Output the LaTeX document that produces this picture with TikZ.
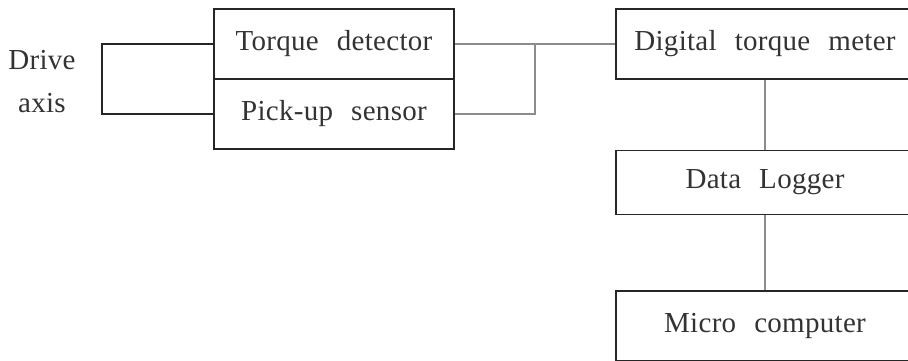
\documentclass[tikz,border=0pt]{standalone}
\usepackage{fontspec}
\setmainfont{Liberation Serif}[WordSpace=2.4, LetterSpace=1]
\usetikzlibrary{positioning}
\tikzset{
  unit/.style   = {shape=rectangle, draw=black!85, line width=1.6pt,
                   minimum height=70pt, text=black!80,
                   font=\fontsize{29}{34}\selectfont},
  sensor/.style = {unit, minimum width=240pt},
  device/.style = {unit, minimum width=298pt},
  wire/.style   = {draw=black!45, line width=1.3pt},
  shaft/.style  = {draw=black!85, line width=1.6pt}
}

\begin{document}
\begin{tikzpicture}[x=1pt, y=-1pt]
  \useasboundingbox (0,0) rectangle (908,360);
  % sensor block
  \node [sensor] (torque) at (334,44)  {Torque detector};
  \node [sensor] (pickup) at (334,114) {Pick-up sensor};
  \node [align=center, text=black!80, font=\fontsize{29}{43}\selectfont] (drive) at (42,82) {Drive\\axis};
  % measuring chain
  \node [device] (meter) at (765,44) {Digital torque meter};
  \node [device, minimum height=64pt, below=70pt of meter] (logger) {Data Logger};
  \node [device, below=75pt of logger] (micro) {Micro computer};
  \coordinate (bend) at (102,0);
  \coordinate (join) at (535,0);
  \draw [shaft] (torque.west) -- (torque.west -| bend) |- (pickup.west);
  \draw [wire] (torque.east) -- (meter.west);
  \draw [wire] (pickup.east) -| (join |- torque.east);
  \draw [wire] (meter.south) -- (logger.north);
  \draw [wire] (logger.south) -- (micro.north);
\end{tikzpicture}
\end{document}
